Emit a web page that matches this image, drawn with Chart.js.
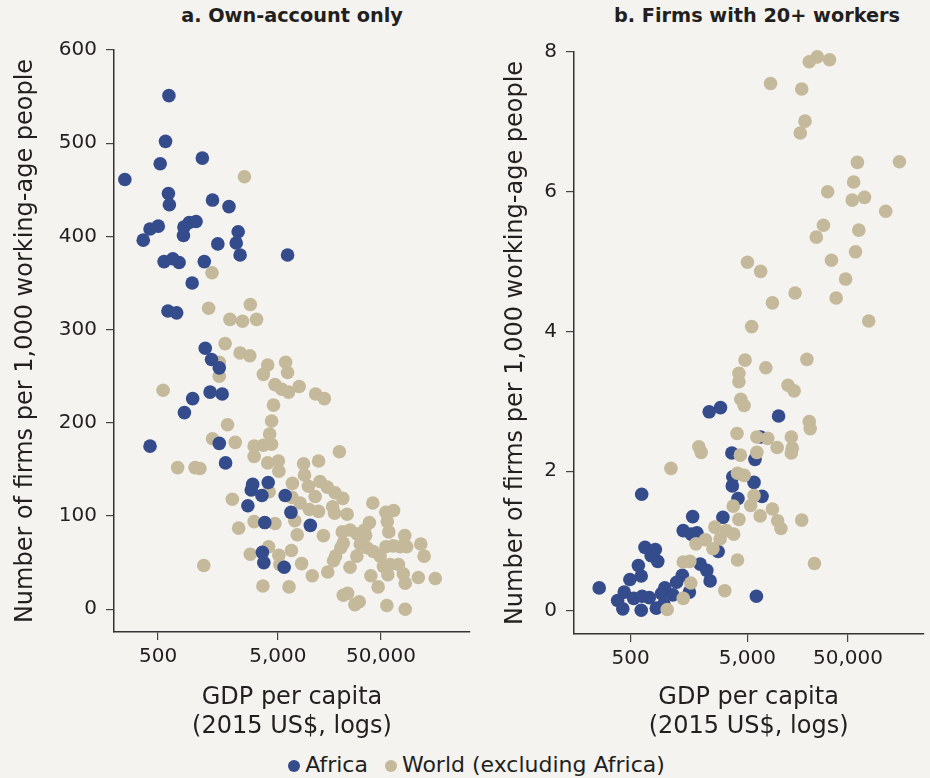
<!DOCTYPE html>
<html>
<head>
<meta charset="utf-8">
<script src="https://cdn.jsdelivr.net/npm/chart.js@4/dist/chart.umd.min.js"></script>
<style>
  html, body { margin: 0; padding: 0; background: #f4f3ef; }
  #wrap { position: relative; width: 930px; height: 778px; overflow: hidden; font-family: "DejaVu Sans", sans-serif; color: #231f20; }
  canvas { position: absolute; top: 0; }
  .ttl { position: absolute; top: 3px; font-weight: bold; font-size: 19.3px; line-height: 26px; transform: translateX(-50%); white-space: nowrap; }
  #legend { position: absolute; top: 752px; left: 0; width: 950px; text-align: center; font-size: 22px; line-height: 26px; }
  .dot { display: inline-block; width: 12px; height: 12px; border-radius: 50%; margin: 0 5px 0 3px; vertical-align: 0px; }
</style>
</head>
<body>
<div id="wrap">
  <div class="ttl" style="left:292px">a. Own-account only</div>
  <div class="ttl" style="left:757px">b. Firms with 20+ workers</div>
  <canvas id="chart-own" width="490" height="745" style="left:0"></canvas>
  <canvas id="chart-big" width="440" height="745" style="left:490px"></canvas>
  <div id="legend">
    <span class="dot" style="background:#354c8c"></span>Africa
    <span class="dot" style="background:#c5b99b; margin-left:10px"></span>World (excluding Africa)
  </div>
</div>
<script>
// x values are log GDP per capita (2015 US$), as placed on the reference axis
const X_TICKS = [6.215, 8.69, 10.82]
const X_LABELS = ["500", "5,000", "50,000"]
const OWN_Y_TICKS = [0, 100, 200, 300, 400, 500, 600]
const BIG_Y_TICKS = [0, 2, 4, 6, 8]

// a. Own-account only
const ownAfricaX = [6.44, 6.37, 7.13, 6.26, 5.53, 6.43, 6.45, 7.34, 7.68, 6.22, 6.05, 5.91, 6.75, 6.86, 7.00, 6.74, 7.87, 7.45, 7.83, 7.91,
  8.89, 6.34, 6.52, 6.65, 7.17, 6.92, 6.42, 6.60, 7.19, 7.32, 7.48, 6.93, 7.29, 7.54, 6.76, 7.48, 6.05, 7.61, 8.17, 8.14,
  8.49, 8.36, 8.84, 8.07, 8.96, 8.42, 9.36, 8.37, 8.40, 8.82]
const ownAfricaY = [551, 502, 484, 478, 461, 446, 434, 439, 432, 411, 408, 396, 410, 415, 416, 401, 405, 392, 393, 380,
  380, 373, 376, 372, 373, 350, 320, 318, 280, 268, 259, 226, 233, 231, 211, 178, 175, 157, 134, 128,
  136, 122, 122, 111, 104, 93, 90, 61, 50, 45]
const ownWorldX = [8.00, 7.33, 7.26, 8.12, 7.70, 7.96, 8.25, 7.60, 7.91, 8.11, 7.48, 7.48, 8.48, 8.39, 8.85, 8.89, 8.63, 8.77, 8.91, 9.13,
  9.47, 9.65, 6.32, 8.60, 8.56, 7.65, 8.52, 8.56, 8.39, 8.20, 8.20, 7.34, 7.81, 9.96, 6.62, 6.98, 7.08, 8.48, 8.70, 8.71,
  9.22, 9.53, 9.24, 8.51, 8.98, 8.99, 9.32, 9.56, 9.71, 9.87, 10.03, 9.46, 7.75, 9.15, 9.34, 9.53, 9.82, 9.86, 10.12, 10.65,
  10.92, 11.08, 10.95, 8.20, 8.63, 9.04, 7.88, 9.09, 9.63, 10.58, 10.02, 10.18, 10.32, 10.48, 10.50, 10.98, 11.31, 10.04, 9.99, 10.39,
  10.53, 10.66, 10.80, 10.92, 11.07, 11.21, 11.35, 11.64, 11.71, 8.50, 8.12, 8.71, 8.97, 9.18, 8.73, 10.32, 9.88, 9.84, 9.72, 10.18,
  10.61, 10.76, 10.87, 11.01, 11.18, 10.96, 11.28, 11.32, 11.59, 11.94, 7.16, 9.40, 8.38, 8.92, 10.04, 10.13, 10.28, 10.37, 10.94, 11.32]
const ownWorldY = [464, 361, 323, 327, 311, 309, 311, 285, 275, 272, 265, 250, 262, 252, 265, 254, 241, 236, 233, 239,
  231, 226, 235, 219, 202, 198, 188, 177, 176, 175, 164, 183, 179, 169, 152, 152, 151, 157, 159, 148,
  156, 159, 144, 126, 120, 135, 132, 137, 131, 125, 119, 121, 118, 114, 107, 105, 110, 103, 102, 114,
  104, 106, 94, 94, 92, 95, 87, 80, 79, 93, 83, 85, 81, 85, 79, 83, 79, 71, 66, 70,
  66, 62, 57, 67, 68, 67, 67, 70, 57, 67, 59, 58, 63, 49, 48, 57, 57, 52, 40, 45,
  36, 24, 46, 48, 48, 37, 38, 28, 34, 33, 47, 36, 25, 24, 15, 17, 5, 8, 4, 0]

// b. Firms with 20+ workers
const bigAfricaX = [7.88, 8.12, 9.35, 8.97, 8.36, 8.85, 8.38, 8.37, 8.49, 8.83, 9.00, 6.45, 7.53, 8.17, 7.33, 7.50, 7.62, 6.52, 6.74, 6.65,
  6.79, 6.38, 6.44, 6.20, 7.69, 7.83, 7.90, 8.07, 7.31, 7.19, 5.55, 6.08, 5.94, 6.28, 6.46, 6.61, 6.05, 6.44, 6.76, 6.94,
  6.87, 7.11, 7.46, 6.92, 8.88]
const bigAfricaY = [2.85, 2.91, 2.79, 2.49, 2.26, 2.17, 1.92, 1.79, 1.61, 1.84, 1.64, 1.67, 1.35, 1.34, 1.15, 1.10, 1.12, 0.91, 0.88, 0.79,
  0.71, 0.65, 0.50, 0.45, 0.67, 0.58, 0.43, 0.85, 0.51, 0.41, 0.33, 0.27, 0.15, 0.18, 0.21, 0.19, 0.03, 0.01, 0.04, 0.33,
  0.25, 0.23, 0.27, 0.10, 0.21]
const bigWorldX = [10.17, 10.00, 10.43, 9.18, 9.84, 9.91, 9.81, 11.02, 11.91, 10.94, 10.39, 10.91, 11.17, 11.62, 10.30, 10.15, 11.05, 10.98, 8.69, 8.97,
  10.47, 10.77, 9.70, 9.22, 10.57, 8.78, 11.26, 8.64, 9.08, 9.95, 8.51, 8.51, 9.55, 9.68, 8.55, 8.62, 10.00, 10.02, 8.47, 8.89,
  9.12, 9.62, 9.32, 9.64, 9.62, 7.66, 7.71, 8.54, 8.89, 7.07, 8.48, 8.62, 8.83, 8.39, 8.76, 9.22, 8.51, 8.96, 9.33, 9.40,
  9.84, 8.00, 8.24, 8.40, 8.11, 7.80, 7.60, 7.96, 8.48, 10.11, 7.33, 7.47, 7.49, 8.21, 7.33, 6.99]
const bigWorldY = [7.93, 7.86, 7.89, 7.55, 7.47, 7.01, 6.84, 6.42, 6.43, 6.14, 6.00, 5.88, 5.92, 5.72, 5.52, 5.35, 5.45, 5.14, 4.99, 4.86,
  5.02, 4.75, 4.55, 4.41, 4.48, 4.07, 4.15, 3.59, 3.48, 3.60, 3.40, 3.28, 3.23, 3.15, 3.03, 2.94, 2.71, 2.61, 2.54, 2.49,
  2.47, 2.49, 2.34, 2.33, 2.26, 2.35, 2.27, 2.23, 2.27, 2.04, 1.97, 1.94, 1.65, 1.50, 1.51, 1.46, 1.31, 1.36, 1.29, 1.18,
  1.30, 1.20, 1.15, 1.10, 1.03, 1.02, 0.96, 0.89, 0.73, 0.68, 0.70, 0.71, 0.40, 0.29, 0.18, 0.02]

const AFRICA_COLOR = "#354c8c"
const WORLD_COLOR = "#c5b99b"
const INK = "#231f20"

Chart.defaults.font.family = "'DejaVu Sans', sans-serif"
Chart.defaults.color = INK

function pairs(xs, ys) {
    return xs.map((x, i) => ({x: x, y: ys[i]}))
}

function makePanel(id, africa, world, o) {
    let ctx = document.getElementById(id).getContext("2d")
    return new Chart(ctx, {
        type: "scatter",
        data: {
            datasets: [{
                    label: "Africa",
                    data: africa,
                    backgroundColor: AFRICA_COLOR,
                    borderWidth: 0,
                    pointRadius: 6.8,
                    order: o.africaOrder,
                    clip: false
                },
                {
                    label: "World (excluding Africa)",
                    data: world,
                    backgroundColor: WORLD_COLOR,
                    borderWidth: 0,
                    pointRadius: 6.8,
                    order: o.worldOrder,
                    clip: false
                }
            ]
        },
        options: {
            responsive: false,
            animation: false,
            events: [],
            layout: { padding: { top: o.top, right: o.right, bottom: 0, left: 0 } },
            plugins: { legend: { display: false }, tooltip: { enabled: false } },
            scales: {
                x: {
                    type: "linear",
                    min: o.xMin,
                    max: o.xMax,
                    afterBuildTicks: s => { s.ticks = X_TICKS.map(v => ({value: v})) },
                    afterFit: s => { s.height = o.xHeight },
                    ticks: {
                        callback: (v, i) => X_LABELS[i],
                        font: { size: 20 },
                        color: INK,
                        padding: 5,
                        maxRotation: 0,
                        autoSkip: false
                    },
                    grid: { drawOnChartArea: false, drawTicks: true, tickLength: 8, color: "#444", lineWidth: 1.2 },
                    border: { display: true, color: "#333", width: 1.5 },
                    title: {
                        display: true,
                        text: ["GDP per capita", "(2015 US$, logs)"],
                        font: { size: 24, lineHeight: 1.2 },
                        color: INK,
                        padding: { top: 0, bottom: 4 }
                    }
                },
                y: {
                    type: "linear",
                    min: o.yMin,
                    max: o.yMax,
                    afterBuildTicks: s => { s.ticks = o.yTicks.map(v => ({value: v})) },
                    afterFit: s => { s.width = o.yWidth },
                    ticks: {
                        font: { size: 20 },
                        color: INK,
                        padding: 9
                    },
                    grid: { drawOnChartArea: false, drawTicks: true, tickLength: 8, color: "#444", lineWidth: 1.2 },
                    border: { display: true, color: "#333", width: 1.5 },
                    title: {
                        display: true,
                        text: "Number of firms per 1,000 working-age people",
                        font: { size: 24, lineHeight: 1.2 },
                        color: INK,
                        padding: { top: 11, bottom: 0 }
                    }
                }
            }
        }
    })
}

makePanel("chart-own", pairs(ownAfricaX, ownAfricaY), pairs(ownWorldX, ownWorldY), {
    top: 50, right: 20, xHeight: 113, yWidth: 114,
    xMin: 5.306, xMax: 12.657, yMin: -24.4, yMax: 600, yTicks: OWN_Y_TICKS,
    africaOrder: 0, worldOrder: 1
})

makePanel("chart-big", pairs(bigAfricaX, bigAfricaY), pairs(bigWorldX, bigWorldY), {
    top: 52, right: 0, xHeight: 111, yWidth: 84,
    xMin: 5.016, xMax: 12.414, yMin: -0.33, yMax: 8, yTicks: BIG_Y_TICKS,
    africaOrder: 1, worldOrder: 0
})
</script>
</body>
</html>
